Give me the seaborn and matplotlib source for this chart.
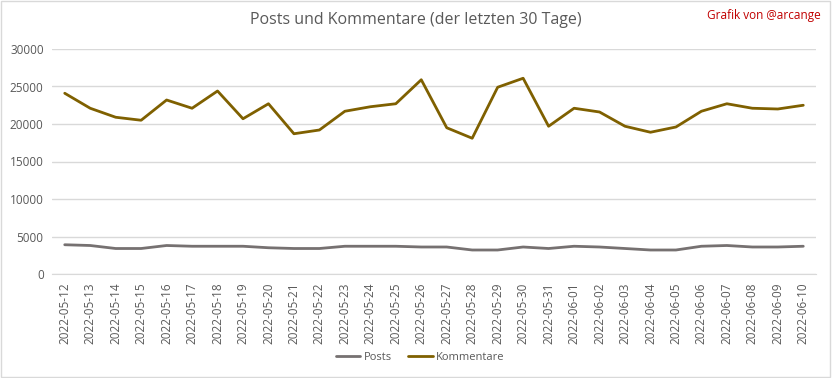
import pandas as pd
import matplotlib.pyplot as plt
import seaborn as sns

# data
dates = ["2022-05-12", "2022-05-13", "2022-05-14", "2022-05-15", "2022-05-16", "2022-05-17",
         "2022-05-18", "2022-05-19", "2022-05-20", "2022-05-21", "2022-05-22", "2022-05-23",
         "2022-05-24", "2022-05-25", "2022-05-26", "2022-05-27", "2022-05-28", "2022-05-29",
         "2022-05-30", "2022-05-31", "2022-06-01", "2022-06-02", "2022-06-03", "2022-06-04",
         "2022-06-05", "2022-06-06", "2022-06-07", "2022-06-08", "2022-06-09", "2022-06-10"]
posts = [3900, 3800, 3400, 3400, 3800, 3700, 3700, 3700, 3500, 3400,
         3400, 3700, 3700, 3700, 3600, 3600, 3200, 3200, 3600, 3400,
         3700, 3600, 3400, 3200, 3200, 3700, 3800, 3600, 3600, 3700]
kommentare = [24100, 22100, 20900, 20500, 23200, 22100, 24400, 20700, 22700, 18700,
              19200, 21700, 22300, 22700, 25900, 19500, 18100, 24900, 26100, 19700,
              22100, 21600, 19700, 18900, 19600, 21700, 22700, 22100, 22000, 22500]

df = pd.DataFrame({"Datum": dates, "Posts": posts, "Kommentare": kommentare})
long = df.melt(id_vars="Datum", var_name="Serie", value_name="Anzahl")
long["pos"] = long["Datum"].map({d: i for i, d in enumerate(dates)})

sns.set_style("white")
plt.rcParams["font.family"] = ["Open Sans", "DejaVu Sans"]
textcol = "#595959"

fig = plt.figure(figsize=(8.32, 3.78), dpi=100)
ax = fig.add_axes([52 / 832, 1 - 274 / 378, (816 - 52) / 832, (274 - 49) / 378])

sns.lineplot(data=long, x="pos", y="Anzahl", hue="Serie", ax=ax, lw=2,
             palette={"Posts": "#767171", "Kommentare": "#7f6000"}, legend=False)

ax.set_xlim(-0.5, len(dates) - 0.5)
ax.set_ylim(0, 30000)
ax.set_yticks(range(0, 30001, 5000))
ax.set_xticks(range(len(dates)))
ax.set_xticklabels(dates, rotation=90)
ax.tick_params(axis="both", labelsize=8.5, colors=textcol, length=0, pad=6)
ax.grid(axis="y", color="#d9d9d9", lw=1)
ax.set_axisbelow(True)
for s in ["top", "right", "left"]:
    ax.spines[s].set_visible(False)
ax.spines["bottom"].set_color("#d9d9d9")
ax.set_xlabel("")
ax.set_ylabel("")

fig.text(0.5, 1 - 20 / 378, "Posts und Kommentare (der letzten 30 Tage)", ha="center", va="center",
         fontsize=11.5, color=textcol)
fig.text(1 - 11 / 832, 1 - 16 / 378, "Grafik von @arcange", ha="right", va="center",
         fontsize=8.5, color="#c00000")

handles = [plt.Line2D([], [], color="#767171", lw=2), plt.Line2D([], [], color="#7f6000", lw=2)]
fig.legend(handles, ["Posts", "Kommentare"], loc="center", bbox_to_anchor=(0.505, 1 - 357 / 378),
           ncol=2, frameon=False, fontsize=8, labelcolor=textcol, handlelength=2.2,
           columnspacing=1.5, handletextpad=0.3)

fig.patches.append(plt.Rectangle((0.001, 0.002), 0.997, 0.995, transform=fig.transFigure,
                                 fill=False, edgecolor="#d9d9d9", lw=1))

fig.savefig("out.png", dpi=100)
